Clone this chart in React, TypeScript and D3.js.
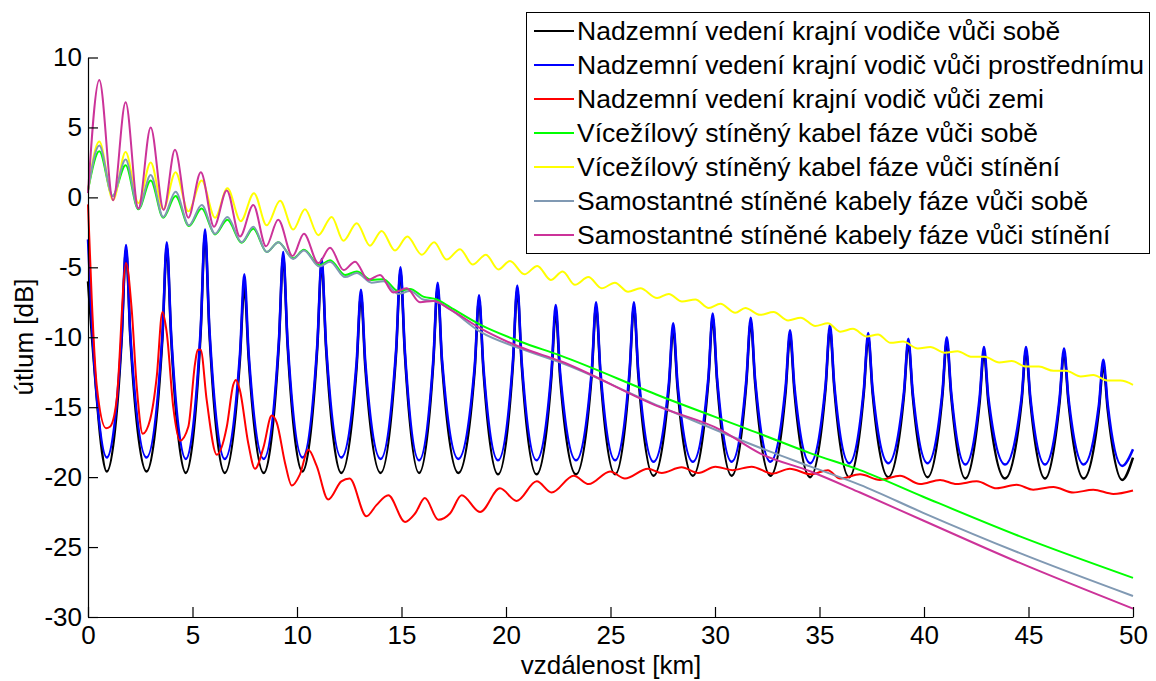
import React, { useRef, useEffect } from 'react';
import * as d3 from 'd3';

// overhead line: shared km positions (peak, flank, trough ...) for the black and blue curves
const ohlKm = [
  0, 0.21, 0.90,
  1.61, 1.82, 2.03, 2.80,
  3.56, 3.77, 3.98, 4.68,
  5.39, 5.60, 5.81, 6.54,
  7.27, 7.48, 7.69, 8.41,
  9.13, 9.34, 9.55, 10.26,
  10.97, 11.18, 11.39, 12.12,
  12.85, 13.06, 13.27, 14.00,
  14.74, 14.95, 15.16, 15.84,
  16.52, 16.73, 16.94, 17.72,
  18.50, 18.71, 18.92, 19.62,
  20.33, 20.54, 20.75, 21.46,
  22.17, 22.38, 22.59, 23.35,
  24.10, 24.31, 24.52, 25.22,
  25.91, 26.12, 26.33, 27.06,
  27.79, 28.00, 28.21, 28.94,
  29.68, 29.89, 30.10, 30.80,
  31.50, 31.71, 31.92, 32.65,
  33.38, 33.59, 33.80, 34.55,
  35.29, 35.50, 35.71, 36.42,
  37.12, 37.33, 37.54, 38.29,
  39.04, 39.25, 39.46, 40.17,
  40.88, 41.09, 41.30, 41.98,
  42.66, 42.87, 43.08, 43.88,
  44.67, 44.88, 45.09, 45.79,
  46.49, 46.70, 46.91, 47.64,
  48.37, 48.58, 48.79, 49.48,
  50.0,
];

const blueDb = [
  -3.0, -9.7, -18.6,
  -9.9, -3.4, -9.9, -18.6,
  -9.8, -3.2, -9.8, -18.7,
  -9.4, -2.3, -9.4, -18.7,
  -11.2, -5.5, -11.2, -18.7,
  -10.3, -3.9, -10.3, -18.6,
  -10.5, -4.4, -10.5, -18.6,
  -11.8, -6.6, -11.8, -18.7,
  -10.9, -5.0, -10.9, -18.8,
  -11.6, -6.1, -11.6, -18.7,
  -12.1, -7.0, -12.1, -18.8,
  -11.7, -6.3, -11.7, -18.8,
  -12.5, -7.7, -12.5, -18.8,
  -12.4, -7.5, -12.4, -18.8,
  -12.4, -7.5, -12.4, -18.9,
  -13.3, -9.0, -13.3, -18.9,
  -12.9, -8.3, -12.9, -18.9,
  -13.0, -8.6, -13.0, -18.9,
  -13.5, -9.5, -13.5, -19.0,
  -13.4, -9.1, -13.4, -19.0,
  -13.7, -9.7, -13.7, -19.0,
  -13.9, -10.1, -13.9, -19.0,
  -13.9, -10.0, -13.9, -19.1,
  -14.3, -10.7, -14.3, -19.1,
  -14.3, -10.7, -14.3, -19.1,
  -14.3, -10.8, -14.3, -19.1,
  -14.8, -11.6, -14.8, -19.2,
  -18.0,
];

const blackDb = [
  -6.0, -10.4, -19.6,
  -10.2, -3.7, -10.2, -19.6,
  -10.1, -3.5, -10.1, -19.7,
  -9.7, -2.6, -9.7, -19.7,
  -11.6, -6.4, -11.6, -19.7,
  -10.6, -4.2, -10.6, -19.6,
  -10.8, -4.7, -10.8, -19.7,
  -12.2, -7.0, -12.2, -19.7,
  -11.2, -5.3, -11.2, -19.7,
  -11.9, -6.4, -11.9, -19.7,
  -12.4, -7.3, -12.4, -19.8,
  -12.0, -6.6, -12.0, -19.8,
  -12.9, -8.2, -12.9, -19.8,
  -12.7, -7.8, -12.7, -19.8,
  -12.7, -7.8, -12.7, -19.9,
  -13.7, -9.4, -13.7, -19.9,
  -13.2, -8.6, -13.2, -19.9,
  -13.3, -8.9, -13.3, -19.9,
  -13.9, -9.9, -13.9, -20.0,
  -13.7, -9.4, -13.7, -20.0,
  -14.0, -10.0, -14.0, -20.0,
  -14.2, -10.4, -14.2, -20.0,
  -14.2, -10.3, -14.2, -20.1,
  -14.7, -11.1, -14.7, -20.1,
  -14.6, -11.0, -14.6, -20.1,
  -14.6, -11.1, -14.6, -20.1,
  -15.2, -12.0, -15.2, -20.2,
  -18.6,
];

// [km, dB]
const redPts: [number, number][] = [
  [0, -0.5], [0.18, -7.3], [0.42, -13.5], [0.86, -16.5], [1.05, -16.4], [1.37, -14.5],
  [1.82, -4.7], [2.09, -8.0], [2.33, -13.5], [2.62, -16.9], [2.97, -15.9], [3.29, -12.8],
  [3.56, -8.2], [3.77, -9.7], [4.08, -15.0], [4.40, -17.4], [4.80, -16.4], [5.12, -11.9],
  [5.25, -10.9], [5.39, -10.9], [5.68, -14.5], [6.16, -18.4], [6.64, -16.4], [6.95, -13.4],
  [7.08, -13.05], [7.27, -13.8], [7.67, -17.6], [7.99, -19.4], [8.39, -17.9], [8.79, -15.6],
  [9.03, -16.1], [9.43, -19.0], [9.75, -20.6], [10.14, -19.8], [10.54, -18.05], [10.94, -19.2],
  [11.49, -21.6], [12.12, -20.3], [12.52, -20.1], [13.32, -22.8], [13.80, -22.0], [14.37, -21.3],
  [15.17, -23.2], [15.65, -22.6], [16.12, -21.5], [16.76, -23.05], [17.32, -22.6], [17.88, -21.3],
  [18.76, -22.5], [19.71, -20.8], [20.51, -21.7], [21.47, -20.3], [22.18, -21.1], [23.24, -19.9],
  [23.96, -20.5], [24.98, -19.6], [25.69, -20.1], [26.79, -19.4], [27.45, -19.7], [28.40, -19.3],
  [29.20, -19.7], [30.02, -19.25], [30.84, -19.5], [31.75, -19.25], [32.76, -19.75], [33.58, -19.4],
  [34.58, -19.8], [35.40, -19.5], [35.98, -20.1], [36.94, -19.8], [37.89, -20.2], [38.85, -19.9],
  [39.81, -20.5], [40.77, -20.2], [41.56, -20.5], [42.52, -20.3], [43.48, -20.8], [44.43, -20.55],
  [45.23, -20.9], [46.19, -20.7], [47.14, -21.1], [48.10, -20.9], [49.06, -21.2], [50.0, -20.95],
];

const greenPts: [number, number][] = [
  [0, 0.5], [0.54, 3.3], [1.18, 0.1], [1.80, 2.3], [2.41, -0.85], [3.00, 1.2], [3.60, -1.45],
  [4.19, 0.1], [4.83, -2.05], [5.44, -0.8], [6.08, -2.65], [6.67, -1.6], [7.35, -3.25],
  [7.91, -2.25], [8.55, -3.9], [9.11, -3.2], [9.82, -4.35], [10.33, -3.75], [11.07, -4.85],
  [11.58, -4.5], [12.30, -5.55], [12.86, -5.3], [13.57, -5.9], [14.13, -5.85], [14.85, -6.7],
  [15.41, -6.55], [16.04, -7.1], [16.68, -7.3], [17.32, -7.85], [18.76, -9.1], [20.67, -10.3],
  [22.58, -11.3], [27.37, -14.2], [32.15, -16.9], [34.58, -18.3], [36.94, -19.5], [39.96, -21.4],
  [44.53, -24.2], [50.0, -27.2],
];

const yellowPts: [number, number][] = [
  [0, 0.5], [0.54, 4.0], [1.20, -0.2], [1.80, 3.25], [2.41, -0.4], [3.00, 2.5], [3.60, -0.85],
  [4.19, 1.8], [4.80, -1.0], [5.44, 1.2], [6.08, -1.45], [6.67, 0.65], [7.31, -1.7], [7.94, 0.3],
  [8.55, -2.0], [9.19, -0.25], [9.82, -2.3], [10.38, -0.85], [11.02, -2.7], [11.66, -1.4],
  [12.22, -3.1], [12.86, -1.85], [13.49, -3.45], [14.05, -2.4], [14.69, -3.8], [15.28, -2.8],
  [15.97, -4.1], [16.56, -3.2], [17.16, -4.45], [17.80, -3.7], [18.40, -4.8], [19.04, -4.1],
  [19.63, -5.15], [20.19, -4.55], [20.88, -5.5], [21.50, -4.9], [22.14, -5.9], [22.71, -5.3],
  [23.30, -6.25], [23.94, -5.7], [24.58, -6.5], [25.21, -6.1], [25.84, -6.75], [26.43, -6.5],
  [27.23, -7.2], [27.79, -6.9], [28.42, -7.45], [29.06, -7.3], [29.70, -7.9], [30.26, -7.6],
  [30.97, -8.25], [31.45, -7.9], [32.15, -8.4], [32.80, -8.2], [33.50, -8.8], [34.10, -8.6],
  [34.80, -9.2], [35.40, -9.0], [36.00, -9.6], [36.60, -9.4], [37.26, -9.95], [37.80, -9.8],
  [38.40, -10.4], [39.00, -10.3], [39.70, -10.8], [40.30, -10.7], [41.00, -11.1], [41.60, -11.0],
  [42.30, -11.4], [42.90, -11.4], [43.60, -11.8], [44.20, -11.7], [44.90, -12.1], [45.50, -12.1],
  [46.20, -12.4], [46.80, -12.4], [47.50, -12.8], [48.10, -12.7], [48.80, -13.1], [49.40, -13.1],
  [50.0, -13.4],
];

const greyPts: [number, number][] = [
  [0, 0.5], [0.54, 3.7], [1.18, 0.1], [1.80, 2.7], [2.41, -0.8], [3.00, 1.6], [3.60, -1.4],
  [4.19, 0.4], [4.83, -2.0], [5.44, -0.55], [6.08, -2.6], [6.67, -1.4], [7.35, -3.2],
  [7.91, -2.1], [8.55, -3.9], [9.11, -3.2], [9.82, -4.4], [10.33, -3.8], [11.07, -4.95],
  [11.58, -4.6], [12.30, -5.7], [12.86, -5.4], [13.57, -6.1], [14.13, -6.0], [14.85, -6.9],
  [15.41, -6.7], [16.04, -7.3], [16.68, -7.45], [17.32, -8.0], [18.76, -9.6], [20.67, -10.8],
  [22.58, -11.8], [27.37, -14.95], [32.15, -17.9], [34.58, -19.25], [36.94, -20.55],
  [39.96, -22.55], [44.53, -25.4], [50.0, -28.5],
];

const magentaPts: [number, number][] = [
  [0, 0.3], [0.54, 8.4], [1.20, -0.2], [1.80, 6.8], [2.41, -0.8], [3.00, 5.0], [3.62, -0.9],
  [4.16, 3.4], [4.80, -1.45], [5.40, 1.8], [6.03, -2.1], [6.64, 0.5], [7.27, -2.8],
  [7.91, -0.55], [8.52, -3.5], [9.10, -1.6], [9.79, -4.2], [10.33, -2.6], [11.02, -4.7],
  [11.58, -3.6], [12.23, -5.2], [12.78, -4.6], [13.41, -5.9], [13.97, -5.55], [14.61, -6.8],
  [15.25, -6.5], [15.88, -7.5], [16.52, -7.4], [17.32, -8.0], [18.76, -9.35], [20.67, -10.7],
  [22.58, -11.7], [27.37, -15.0], [30.24, -16.6], [32.15, -18.3], [34.58, -19.6],
  [36.94, -21.1], [39.96, -23.1], [44.53, -26.1], [50.0, -29.4],
];

const legendNames = [
  'Nadzemní vedení krajní vodiče vůči sobě',
  'Nadzemní vedení krajní vodič vůči prostřednímu',
  'Nadzemní vedení krajní vodič vůči zemi',
  'Vícežílový stíněný kabel fáze vůči sobě',
  'Vícežílový stíněný kabel fáze vůči stínění',
  'Samostantné stíněné kabely fáze vůči sobě',
  'Samostantné stíněné kabely fáze vůči stínění',
];
const lineColors = ['#000000', '#0000ff', '#ff0000', '#00ff00', '#ffff00', '#8099b3', '#cc3399'];
const lineWidths = [2.5, 2.5, 2, 2, 2, 2, 2];

const xTicks = [0, 5, 10, 15, 20, 25, 30, 35, 40, 45, 50];
const yTicks = [-30, -25, -20, -15, -10, -5, 0, 5, 10];

export default function App() {
  const svgRef = useRef<SVGSVGElement>(null);

  useEffect(() => {
    if (!svgRef.current) return;
    const svg = d3.select(svgRef.current);
    svg.selectAll('*').remove();

    const font = "'Liberation Sans', Arial, Helvetica, sans-serif";
    const x = d3.scaleLinear().domain([0, 50]).range([88, 1133]);
    const y = d3.scaleLinear().domain([-30, 10]).range([617, 57.5]);

    const line = d3.line<[number, number]>()
      .x(d => x(d[0]))
      .y(d => y(d[1]))
      .curve(d3.curveMonotoneX);

    const allSeries: [number, number][][] = [
      ohlKm.map((k, i) => [k, blackDb[i]] as [number, number]),
      ohlKm.map((k, i) => [k, blueDb[i]] as [number, number]),
      redPts,
      greenPts,
      yellowPts,
      greyPts,
      magentaPts,
    ];

    svg.append('rect').attr('width', 1156).attr('height', 681).attr('fill', '#fff');

    const plot = svg.append('g');
    allSeries.forEach((pts, i) => {
      plot.append('path')
        .attr('d', line(pts))
        .attr('fill', 'none')
        .attr('stroke', lineColors[i])
        .attr('stroke-width', lineWidths[i])
        .attr('stroke-linejoin', 'round');
    });

    // axes, ticks pointing inwards like matlab
    const xAxisG = svg.append('g')
      .attr('transform', `translate(0,${y(-30)})`)
      .call(d3.axisBottom(x).tickValues(xTicks).tickFormat(d => String(d))
        .tickSizeInner(-10).tickSizeOuter(0).tickPadding(9));
    const yAxisG = svg.append('g')
      .attr('transform', `translate(${x(0)},0)`)
      .call(d3.axisLeft(y).tickValues(yTicks).tickFormat(d => String(d))
        .tickSizeInner(-10).tickSizeOuter(0).tickPadding(6));

    [xAxisG, yAxisG].forEach(g => {
      g.attr('font-size', 26).attr('font-family', font).attr('color', '#000');
      g.selectAll('path, line').attr('stroke', '#000').attr('stroke-width', 1.2);
    });

    svg.append('text')
      .attr('x', 611).attr('y', 674)
      .attr('text-anchor', 'middle')
      .attr('font-family', font).attr('font-size', 26)
      .text('vzdálenost [km]');

    svg.append('text')
      .attr('transform', 'translate(33,337) rotate(-90)')
      .attr('text-anchor', 'middle')
      .attr('font-family', font).attr('font-size', 26)
      .text('útlum [dB]');

    // legend
    const lg = svg.append('g');
    lg.append('rect')
      .attr('x', 526.5).attr('y', 12.5)
      .attr('width', 623).attr('height', 241)
      .attr('fill', '#fff').attr('stroke', '#000').attr('stroke-width', 1);
    legendNames.forEach((name, i) => {
      const ry = 31 + i * 34;
      lg.append('line')
        .attr('x1', 534).attr('x2', 574)
        .attr('y1', ry).attr('y2', ry)
        .attr('stroke', lineColors[i]).attr('stroke-width', 2);
      lg.append('text')
        .attr('x', 577).attr('y', ry + 9)
        .attr('font-family', font).attr('font-size', 26.5)
        .text(name);
    });
  }, []);

  return (
    <svg
      ref={svgRef}
      width={1156}
      height={681}
      style={{ position: 'absolute', left: 0, top: 0, display: 'block' }}
    />
  );
}
